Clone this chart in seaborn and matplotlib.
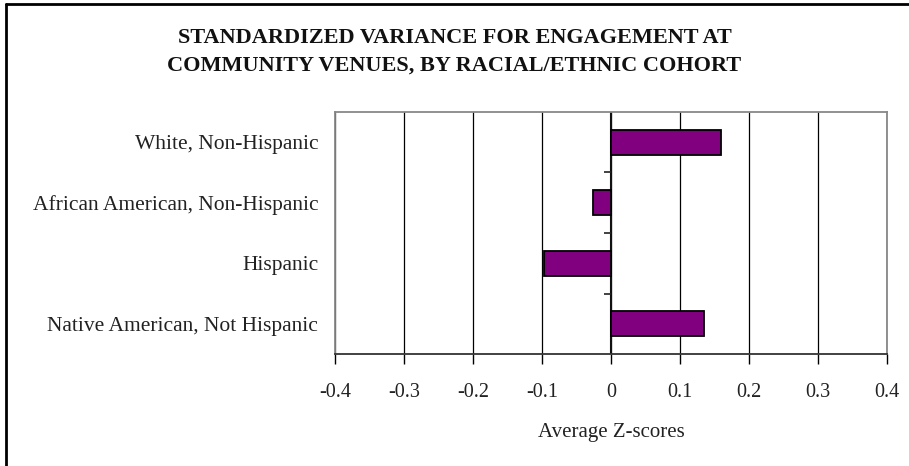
import numpy as np
import pandas as pd
import matplotlib
matplotlib.use('Agg')
import matplotlib.pyplot as plt
import seaborn as sns

# 数据
groups = ['White, Non-Hispanic', 'African American, Non-Hispanic',
          'Hispanic', 'Native American, Not Hispanic']
z_scores = [0.159, -0.026, -0.097, 0.135]
x_ticks = [-0.4, -0.3, -0.2, -0.1, 0, 0.1, 0.2, 0.3, 0.4]
x_tick_labels = ['-0.4', '-0.3', '-0.2', '-0.1', '0', '0.1', '0.2', '0.3', '0.4']

title = 'STANDARDIZED VARIANCE FOR ENGAGEMENT AT\nCOMMUNITY VENUES, BY RACIAL/ETHNIC COHORT'
x_label = 'Average Z-scores'

df = pd.DataFrame({'group': groups, 'z': z_scores})

sns.set_theme(style='white')
plt.rcParams['font.family'] = ['Liberation Serif', 'DejaVu Serif']

fig = plt.figure(figsize=(9.09, 4.66), dpi=100)
ax = fig.add_axes([0.3685, 0.2403, 0.6073, 0.5194])

sns.barplot(data=df, x='z', y='group', order=groups, color='#800080',
            saturation=1, width=0.41, edgecolor='black', linewidth=1.3,
            orient='h', ax=ax, zorder=3)

ax.set_xlim(-0.4, 0.4)
ax.set_ylim(len(groups) - 0.5, -0.5)
ax.set_xticks(x_ticks)
ax.set_xticklabels(x_tick_labels, fontsize=14.5)
ax.tick_params(axis='x', direction='out', length=7, width=1, color='black',
               bottom=True, pad=14)
ax.tick_params(axis='y', length=0, pad=12, labelsize=15.5)
for lab in ax.get_yticklabels():
    lab.set_color('#222222')
for lab in ax.get_xticklabels():
    lab.set_color('#222222')

# 竖向网格线
ax.grid(axis='x', color='black', linewidth=0.9)
ax.set_axisbelow(True)

# 零轴和类别分隔刻度
ax.axvline(0, color='#111111', linewidth=1.5, zorder=2)
bounds = np.arange(len(groups) - 1) + 0.5
ax.hlines(bounds, -0.01, 0, color='#222222', linewidth=1.2, zorder=2)

for side in ['left', 'right', 'top']:
    ax.spines[side].set_color('#888888')
    ax.spines[side].set_linewidth(1.3)
ax.spines['bottom'].set_color('#333333')
ax.spines['bottom'].set_linewidth(1.3)

ax.set_ylabel('')
ax.set_xlabel(x_label, fontsize=15, color='#222222', labelpad=15)

fig.text(0.5, 0.889, title, ha='center', va='center', fontsize=16,
         fontweight='bold', linespacing=1.45, color='#111111')

# 外框（左、上）
fig.add_artist(plt.Line2D([0.0066, 0.0066], [0, 0.991], color='black', linewidth=2))
fig.add_artist(plt.Line2D([0.0066, 1], [0.991, 0.991], color='black', linewidth=2))

plt.savefig('out.png', dpi=100, facecolor='white')
plt.close()
